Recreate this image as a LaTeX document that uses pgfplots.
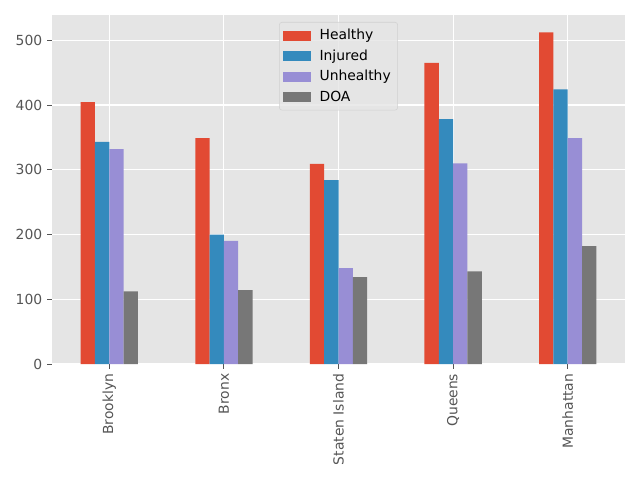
\documentclass[border=0pt]{standalone}
\usepackage{pgfplots}
\pgfplotsset{compat=1.18}
\usepackage{fontspec}
\setmainfont{DejaVu Sans}
\definecolor{cHealthy}{HTML}{E24A33}
\definecolor{cInjured}{HTML}{348ABD}
\definecolor{cUnhealthy}{HTML}{988ED5}
\definecolor{cDOA}{HTML}{777777}
\definecolor{panel}{HTML}{E5E5E5}
\definecolor{tickgray}{HTML}{555555}
\begin{document}
\begin{tikzpicture}[x=1pt,y=1pt]
\useasboundingbox (-37.44,-83.52) rectangle (423.36,262.08);
\begin{axis}[
    at={(0,0)}, anchor=south west,
    scale only axis,
    width=412.56pt, height=251.28pt,
    xmin=-0.5, xmax=4.5,
    ymin=0, ymax=539,
    axis background/.style={fill=panel},
    axis line style={draw=none},
    grid=major,
    major grid style={white, line width=0.8pt},
    ytick={0,100,200,300,400,500},
    xtick={0,1,2,3,4},
    xticklabels={Brooklyn,Bronx,Staten Island,Queens,Manhattan},
    xticklabel style={rotate=90, anchor=east, text=tickgray},
    yticklabel style={text=tickgray},
    tick align=outside,
    tick pos=left,
    major tick length=3.5pt,
    tick style={color=tickgray, line width=0.6pt},
    /pgf/number format/assume math mode=true,
    font=\fontsize{10}{12}\selectfont,
    ybar=0pt,
    bar width=0.125,
    legend style={at={(0.5,0.98)}, anchor=north, fill=panel, fill opacity=0.8, text opacity=1,
        draw=black!18, rounded corners=2pt, row sep=1.7pt, inner sep=3pt},
    legend cell align=left,
    legend image code/.code={
        \fill[#1, sharp corners, fill opacity=1] (0pt,-3.6pt) rectangle (20pt,3.6pt);
        \path (24pt,0pt);},
]
\addplot[fill=cHealthy, draw=none, bar shift=-0.1875] coordinates {(0,404.5) (1,349) (2,309) (3,465) (4,512)};
\addplot[fill=cInjured, draw=none, bar shift=-0.0625] coordinates {(0,343) (1,200) (2,284) (3,378) (4,424)};
\addplot[fill=cUnhealthy, draw=none, bar shift=0.0625] coordinates {(0,332) (1,190) (2,148) (3,310) (4,349)};
\addplot[fill=cDOA, draw=none, bar shift=0.1875] coordinates {(0,112) (1,114) (2,134) (3,143) (4,182)};
\legend{Healthy,Injured,Unhealthy,DOA}
\end{axis}
\end{tikzpicture}
\end{document}
